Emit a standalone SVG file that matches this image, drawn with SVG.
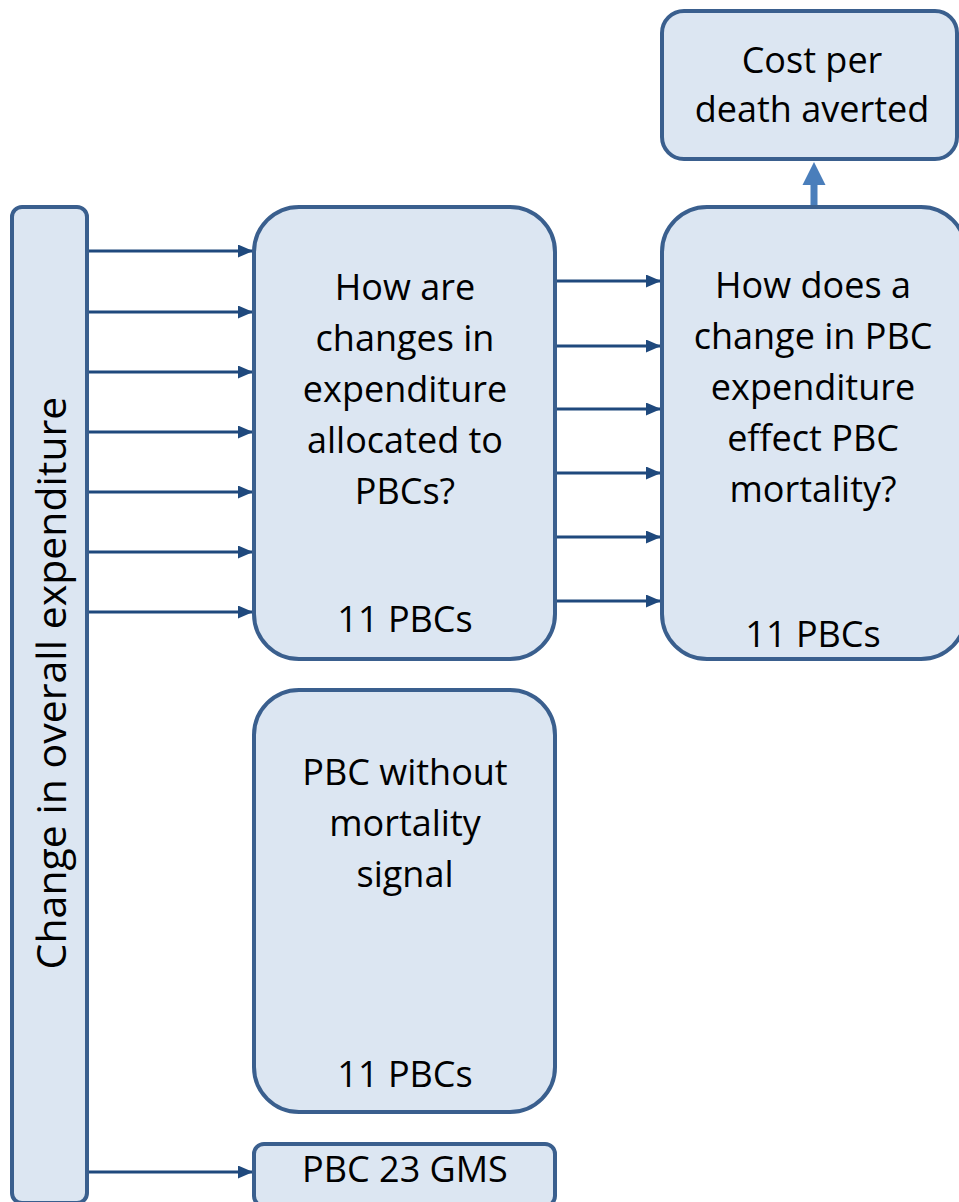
<svg xmlns="http://www.w3.org/2000/svg" width="959" height="1202" viewBox="0 0 959 1202">
<style>
.box{fill:#dce6f2;stroke:#3a5f8e;stroke-width:4}
.t{font-family:"Open Sans","Noto Sans",sans-serif;font-size:36px;fill:#000;text-anchor:middle}
.c{stroke:#1f497d;stroke-width:3;fill:none;marker-end:url(#ah)}
</style>
<defs>
<marker id="ah" viewBox="0 0 15 13" refX="15" refY="6.5" markerWidth="15" markerHeight="13" markerUnits="userSpaceOnUse" orient="auto">
<path d="M0,0L15,6.5L0,13z" fill="#1f497d"/>
</marker>
</defs>
<g id="connectors">
<path class="c" d="M88,251H253"/>
<path class="c" d="M88,312H253"/>
<path class="c" d="M88,372H253"/>
<path class="c" d="M88,432H253"/>
<path class="c" d="M88,492H253"/>
<path class="c" d="M88,552H253"/>
<path class="c" d="M88,612H253"/>
<path class="c" d="M556,281H661"/>
<path class="c" d="M556,346H661"/>
<path class="c" d="M556,409H661"/>
<path class="c" d="M556,473H661"/>
<path class="c" d="M556,537H661"/>
<path class="c" d="M556,601H661"/>
<path class="c" d="M88,1172H253"/>
<path d="M810.5,206V185H802.5L814,162L825.5,185H817.5V206z" fill="#4a7ebb"/>
</g>
<g id="overall">
<rect class="box" x="12" y="207" width="75" height="996" rx="10"/>
<text class="t" style="font-size:41px" transform="translate(66,683) rotate(-90)">Change in overall expenditure</text>
</g>
<g id="allocated">
<rect class="box" x="254" y="207" width="301" height="452" rx="45"/>
<text class="t" x="405" y="300">How are</text>
<text class="t" x="405" y="351">changes in</text>
<text class="t" x="405" y="402">expenditure</text>
<text class="t" x="405" y="453">allocated to</text>
<text class="t" x="405" y="504">PBCs?</text>
<text class="t" x="405" y="632">11 PBCs</text>
</g>
<g id="effect">
<rect class="box" x="662" y="207" width="304" height="452" rx="45"/>
<text class="t" x="813" y="298">How does a</text>
<text class="t" x="813" y="349">change in PBC</text>
<text class="t" x="813" y="400">expenditure</text>
<text class="t" x="813" y="451">effect PBC</text>
<text class="t" x="813" y="502">mortality?</text>
<text class="t" x="813" y="647">11 PBCs</text>
</g>
<g id="cost">
<rect class="box" x="662" y="11" width="295" height="148" rx="22"/>
<text class="t" x="812" y="73">Cost per</text>
<text class="t" x="812" y="122">death averted</text>
</g>
<g id="nosignal">
<rect class="box" x="254" y="690" width="301" height="422" rx="45"/>
<text class="t" x="405" y="785">PBC without</text>
<text class="t" x="405" y="836">mortality</text>
<text class="t" x="405" y="887">signal</text>
<text class="t" x="405" y="1087">11 PBCs</text>
</g>
<g id="gms">
<rect class="box" x="254" y="1144" width="301" height="62" rx="10"/>
<text class="t" x="405" y="1182">PBC 23 GMS</text>
</g>
</svg>
